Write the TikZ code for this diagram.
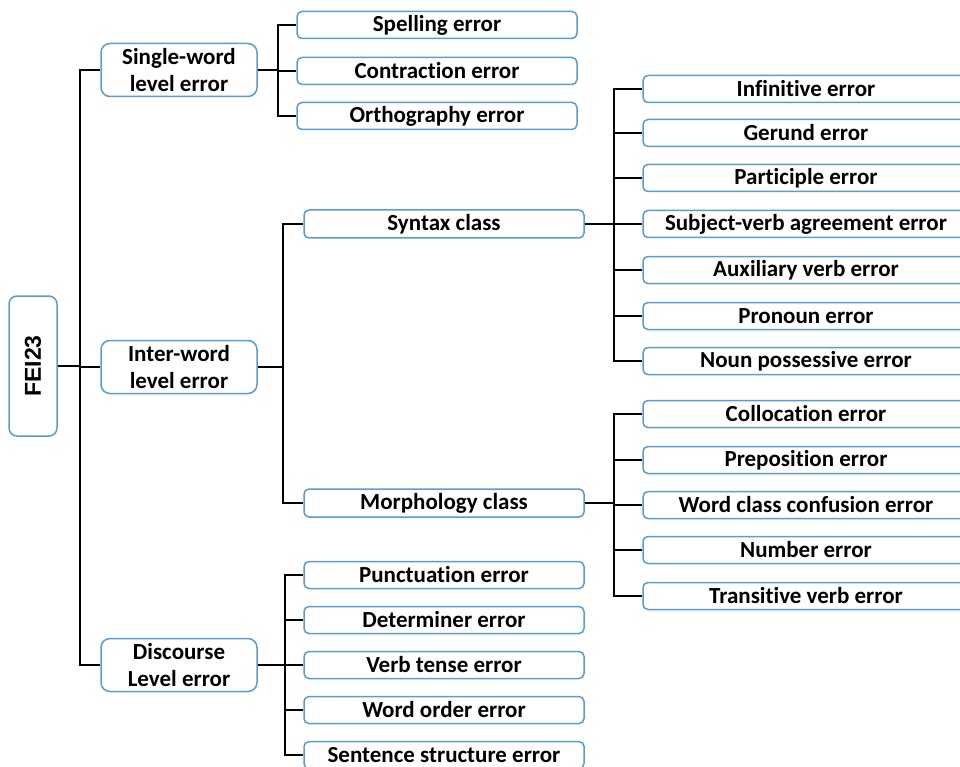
\documentclass[tikz,border=0pt]{standalone}
\usepackage{fontspec}
\setmainfont{Carlito}[Ligatures={NoCommon}]
\newfontfamily\rootfont{Liberation Sans}
\usetikzlibrary{positioning}

\definecolor{boxblue}{RGB}{91,155,213}

\tikzset{
  errbox/.style={draw=boxblue, line width=1.5pt, rounded corners=5pt, fill=white,
    font=\fontsize{23}{27}\selectfont\bfseries, inner sep=0pt,
    minimum height=27pt, minimum width=280pt},
  levelbox/.style={errbox, rounded corners=9pt, align=center,
    minimum width=156pt, minimum height=53pt},
  widebox/.style={errbox, minimum width=326pt},
  branch/.style={line width=1.5pt, black}
}

\begin{document}
\begin{tikzpicture}[x=1pt,y=-1pt]
\useasboundingbox (0,0) rectangle (960,767);

% Root of the tree
\node [errbox, rounded corners=8pt, minimum width=48pt, minimum height=140pt]
  (fei) at (33,366) {\rotatebox{90}{\rootfont\fontsize{23}{27}\selectfont\bfseries FEI23}};

% The three levels
\foreach \n/\y/\txt in {
  single/70/{Single-word\\level error},
  inter/367/{Inter-word\\level error},
  disc/665/{Discourse\\Level error}} {
  \node [levelbox] (\n) at (179,\y) {\txt};
  \draw [branch] (fei.east) -- ++(22,0) |- (\n.west);
}

% Single-word level
\foreach \n/\y/\txt in {
  spell/25/Spelling error,
  contr/71/Contraction error,
  ortho/116/Orthography error} {
  \node [errbox] (\n) at (437,\y) {\txt};
  \draw [branch] (single.east) -- ++(20,0) |- (\n.west);
}

% Inter-word level
\foreach \n/\y/\txt in {
  syntax/224/Syntax class,
  morph/503/Morphology class} {
  \node [errbox, minimum height=28pt] (\n) at (444,\y) {\txt};
  \draw [branch] (inter.east) -- ++(25,0) |- (\n.west);
}

\foreach \n/\y/\txt in {
  infin/89/Infinitive error,
  gerund/133/Gerund error,
  partic/178/Participle error,
  subjverb/224/Subject-verb agreement error,
  auxverb/270/Auxiliary verb error,
  pronoun/316/Pronoun error,
  nounposs/361/Noun possessive error} {
  \node [widebox] (\n) at (806,\y) {\txt};
  \draw [branch] (syntax.east) -- ++(29,0) |- (\n.west);
}

\foreach \n/\y/\txt in {
  colloc/414/Collocation error,
  prep/460/Preposition error,
  wordclass/505/Word class confusion error,
  number/550/Number error,
  transverb/596/Transitive verb error} {
  \node [widebox] (\n) at (806,\y) {\txt};
  \draw [branch] (morph.east) -- ++(29,0) |- (\n.west);
}

% Discourse level
\foreach \n/\y/\txt in {
  punct/575/Punctuation error,
  determ/620/Determiner error,
  tense/665/Verb tense error,
  order/710/Word order error,
  sentence/755/Sentence structure error} {
  \node [errbox] (\n) at (444,\y) {\txt};
  \draw [branch] (disc.east) -- ++(27,0) |- (\n.west);
}

\end{tikzpicture}
\end{document}
